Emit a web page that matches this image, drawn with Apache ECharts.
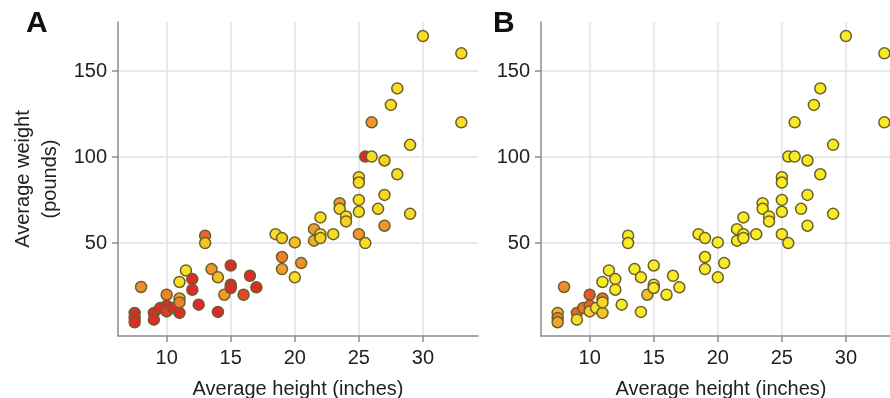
<!DOCTYPE html>
<html>
<head>
<meta charset="utf-8">
<script src="https://cdn.jsdelivr.net/npm/echarts@6/dist/echarts.min.js"></script>
<style>
  html, body { margin: 0; background: #fff; }
  #main { width: 890px; height: 398px; }
</style>
</head>
<body>
<div id="main"></div>
<script>
// average height (inches) and weight (pounds), one entry per point
const heights = [7.5, 7.5, 7.5, 8, 9, 9, 9.5, 10, 10, 10, 10.5, 11, 11, 11, 11, 11.5, 12, 12, 12.5, 13, 13, 13.5, 14, 14, 14.5, 15, 15, 15, 16, 16.5, 17, 18.5, 19, 20, 19, 19, 20, 20.5, 21.5, 21.5, 22, 22, 22, 23, 23.5, 23.5, 24, 24, 25, 25, 25, 25, 25, 25.5, 25.5, 26, 26, 26.5, 27, 27, 27, 27.5, 28, 28, 29, 29, 30, 33, 33];
const weights = [9.4, 6.5, 4, 24.5, 9.4, 5.5, 12.3, 20, 13.6, 10.3, 12.3, 9.4, 17.8, 15.5, 27.4, 34.1, 29.1, 22.9, 14.2, 54.3, 50, 34.9, 30.1, 10, 20, 37, 25.8, 23.9, 20, 31, 24.3, 55.2, 52.9, 50.4, 41.9, 34.9, 30.1, 38.4, 58.1, 51.4, 64.9, 55.2, 52.9, 55.2, 73.2, 69.9, 65.5, 62.6, 88.3, 85.2, 75.1, 68.2, 55.2, 50, 100.3, 100.3, 120.2, 69.9, 98, 78, 60.1, 130.3, 139.9, 90, 107.1, 67, 170.3, 160.3, 120.2];
// colour value per point (0 = yellow ... 1 = red)
const shadeA = [1, 1, 1, 0.65, 1, 1, 1, 0.7, 1, 0.95, 1, 1, 0.45, 0.7, 0.1, 0.1, 1, 1, 1, 0.8, 0.3, 0.6, 0.35, 1, 0.55, 1, 1, 1, 0.9, 1, 1, 0.1, 0.2, 0.35, 0.7, 0.55, 0.1, 0.65, 0.55, 0.45, 0.1, 0.1, 0.2, 0.1, 0.6, 0.15, 0.1, 0.2, 0.1, 0.1, 0.1, 0.1, 0.6, 0.1, 1, 0.1, 0.6, 0.15, 0.2, 0.15, 0.6, 0.1, 0.1, 0.1, 0.1, 0.1, 0.1, 0.1, 0.1];
const shadeB = [0.4, 0.7, 0.5, 0.65, 0.8, 0.1, 0.75, 0.85, 0.8, 0.2, 0.05, 0.3, 0.75, 0.15, 0, 0, 0, 0, 0, 0, 0, 0, 0, 0, 0.35, 0, 0, 0, 0, 0, 0, 0, 0, 0, 0, 0, 0, 0, 0, 0, 0, 0, 0, 0, 0, 0, 0, 0, 0, 0, 0, 0, 0, 0, 0, 0, 0, 0, 0, 0, 0, 0, 0, 0, 0, 0, 0, 0, 0];

const xTicks = [10, 15, 20, 25, 30];
const yTicks = [50, 100, 150];

const font = "'Liberation Sans', Arial, Helvetica, sans-serif";
const axisGray = '#8c8c8c';
const shades = ['#f8ea24', '#f4c024', '#ef8c2c', '#e02a2a'];

const chart = echarts.init(document.getElementById('main'));

function xAxis(idx) {
  return {
    gridIndex: idx, type: 'value', min: 6.2, max: 34.3,
    name: 'Average height (inches)', nameLocation: 'middle', nameGap: 43,
    nameTextStyle: { fontFamily: font, fontSize: 20, color: '#222' },
    axisLine: { onZero: false, lineStyle: { color: axisGray, width: 1.5 } },
    axisTick: { show: true, length: 6, customValues: xTicks, lineStyle: { color: axisGray, width: 1.5 } },
    axisLabel: { customValues: xTicks, margin: 12, fontFamily: font, fontSize: 20, color: '#222' },
    splitLine: { show: true, lineStyle: { color: '#e2e2e2', width: 1.5 } }
  };
}

function yAxis(idx, withName) {
  return {
    gridIndex: idx, type: 'value', min: -4, max: 178.5,
    name: withName ? 'Average weight\n(pounds)' : '', nameLocation: 'middle', nameGap: 54, nameRotate: 90,
    nameTextStyle: { fontFamily: font, fontSize: 20, color: '#222', lineHeight: 27 },
    axisLine: { show: true, onZero: false, lineStyle: { color: axisGray, width: 1.5 } },
    axisTick: { show: true, length: 6, customValues: yTicks, lineStyle: { color: axisGray, width: 1.5 } },
    axisLabel: { customValues: yTicks, margin: 11, fontFamily: font, fontSize: 20, color: '#222' },
    splitLine: { show: true, lineStyle: { color: '#e2e2e2', width: 1.5 } }
  };
}

function points(shade) {
  return heights.map((h, i) => [h, weights[i], shade[i]]);
}

const dotStyle = { borderColor: '#6b5f2c', borderWidth: 1.5, opacity: 1 };

chart.setOption({
  animation: false,
  title: [
    { text: 'A', left: 21, top: 4, textStyle: { fontFamily: font, fontSize: 30, fontWeight: 'bold', color: '#111' } },
    { text: 'B', left: 488, top: 4, textStyle: { fontFamily: font, fontSize: 30, fontWeight: 'bold', color: '#111' } }
  ],
  grid: [
    { left: 118, top: 22, width: 360, height: 314, outerBoundsMode: 'none' },
    { left: 541, top: 22, width: 360, height: 314, outerBoundsMode: 'none' }
  ],
  xAxis: [xAxis(0), xAxis(1)],
  yAxis: [yAxis(0, true), yAxis(1, false)],
  visualMap: [
    { type: 'continuous', show: false, seriesIndex: 0, dimension: 2, min: 0, max: 1, inRange: { color: shades } },
    { type: 'continuous', show: false, seriesIndex: 1, dimension: 2, min: 0, max: 1, inRange: { color: shades } }
  ],
  series: [
    { type: 'scatter', xAxisIndex: 0, yAxisIndex: 0, symbolSize: 11, itemStyle: dotStyle, data: points(shadeA) },
    { type: 'scatter', xAxisIndex: 1, yAxisIndex: 1, symbolSize: 11, itemStyle: dotStyle, data: points(shadeB) }
  ]
});
</script>
</body>
</html>
